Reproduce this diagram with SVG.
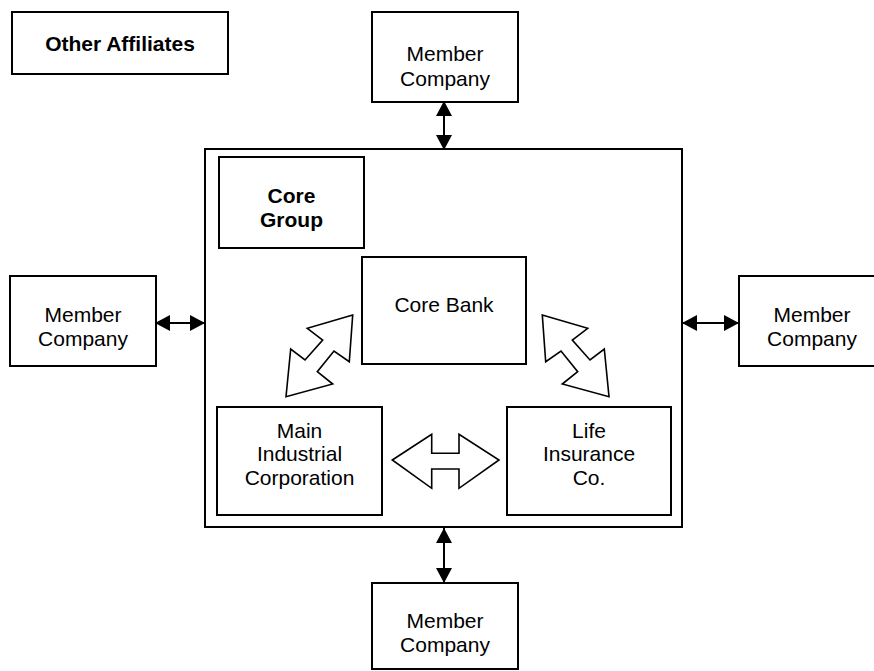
<svg xmlns="http://www.w3.org/2000/svg" width="874" height="671" viewBox="0 0 874 671">
<style>
.box{fill:#fff;stroke:#000;stroke-width:2}
.blk{fill:#fff;stroke:#000;stroke-width:1.6;stroke-linejoin:miter}
.t{font-family:"Liberation Sans",Arial,sans-serif;font-size:21px;fill:#000;text-anchor:middle}
.b{font-weight:bold}
.con{stroke:#000;stroke-width:2;fill:none;marker-start:url(#ah);marker-end:url(#ah)}
</style>
<defs>
<marker id="ah" viewBox="0 0 15 16" refX="15" refY="8" markerWidth="15" markerHeight="16" markerUnits="userSpaceOnUse" orient="auto-start-reverse">
<path d="M0,0 L15,8 L0,16 z" fill="#000"/>
</marker>
</defs>
<rect width="874" height="671" fill="#fff"/>
<g id="other-affiliates">
<rect class="box" x="12" y="12" width="216" height="62"/>
<text class="t b" x="120" y="51">Other Affiliates</text>
</g>
<g id="core-group-frame">
<rect class="box" x="205" y="149" width="477" height="378"/>
</g>
<g id="core-group-label">
<rect class="box" x="219" y="157" width="145" height="91"/>
<text class="t b" x="291.5" y="203">Core</text>
<text class="t b" x="291.5" y="227">Group</text>
</g>
<g id="member-top">
<rect class="box" x="372" y="12" width="146" height="90"/>
<text class="t" x="445" y="61">Member</text>
<text class="t" x="445" y="86">Company</text>
</g>
<g id="member-left">
<rect class="box" x="10" y="276" width="146" height="90"/>
<text class="t" x="83" y="322">Member</text>
<text class="t" x="83" y="346">Company</text>
</g>
<g id="member-right">
<rect class="box" x="739" y="276" width="146" height="90"/>
<text class="t" x="812" y="322">Member</text>
<text class="t" x="812" y="346">Company</text>
</g>
<g id="member-bottom">
<rect class="box" x="372" y="583" width="146" height="86"/>
<text class="t" x="445" y="628">Member</text>
<text class="t" x="445" y="652">Company</text>
</g>
<g id="core-bank">
<rect class="box" x="362" y="257" width="164" height="107"/>
<text class="t" x="444" y="312">Core Bank</text>
</g>
<g id="main-industrial">
<rect class="box" x="217" y="407" width="165" height="108"/>
<text class="t" x="299.5" y="438">Main</text>
<text class="t" x="299.5" y="461">Industrial</text>
<text class="t" x="299.5" y="485">Corporation</text>
</g>
<g id="life-insurance">
<rect class="box" x="507" y="407" width="164" height="108"/>
<text class="t" x="589" y="438">Life</text>
<text class="t" x="589" y="461">Insurance</text>
<text class="t" x="589" y="485">Co.</text>
</g>
<g id="connectors">
<line class="con" x1="444" y1="101" x2="444" y2="150"/>
<line class="con" x1="444" y1="528" x2="444" y2="583"/>
<line class="con" x1="155" y1="323" x2="205" y2="323"/>
<line class="con" x1="682" y1="323" x2="739" y2="323"/>
<polygon class="blk" points="352.7,315 307.3,328.3 322.7,340 305,360 290.7,349 286,396.7 332.7,384 317.3,371.7 334,351 349.3,361.7"/>
<polygon class="blk" points="542.3,315 587.7,328.3 572.3,340 590,360 604.3,349 609,396.7 562.3,384 577.7,371.7 561,351 545.7,361.7"/>
<polygon class="blk" points="392.3,460 431.7,434.3 431.7,453.3 459,453.3 459,434.3 499,460 459,488.3 459,469 431.7,469 431.7,488.3"/>
</g>
</svg>
